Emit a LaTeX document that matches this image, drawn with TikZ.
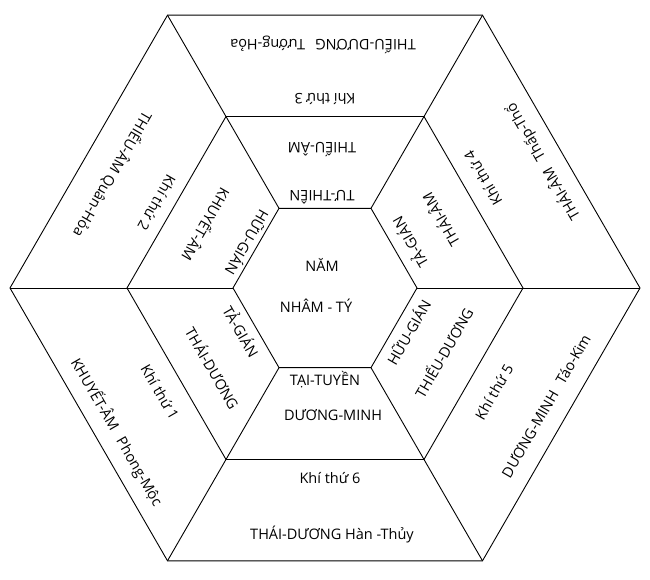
\documentclass[tikz,border=0pt]{standalone}
\usepackage{fontspec}
\setmainfont{Open Sans}
\begin{document}
\begin{tikzpicture}[x=1pt,y=1pt,
  edge/.style={line width=0.9pt,line join=miter},
  lbl/.style={inner sep=0pt,font=\fontsize{14.5}{16}\selectfont}]
\useasboundingbox (-325,-292) rectangle (325,288);
\foreach \k/\a in {0/0,1/60,2/120,3/180,4/240,5/300}{
  \coordinate (o\k) at (\a:315);
  \coordinate (m\k) at (\a:198);
  \coordinate (i\k) at (\a:92);
}
\draw[edge] (o0)--(o1)--(o2)--(o3)--(o4)--(o5)--cycle;
\draw[edge] (m0)--(m1)--(m2)--(m3)--(m4)--(m5)--cycle;
\draw[edge] (i0)--(i1)--(i2)--(i3)--(i4)--(i5)--cycle;
\foreach \k in {0,...,5}{ \draw[edge] (i\k)--(o\k); }
% centre
\node[lbl] (c1) at (-3,23) {NĂM};
\node[lbl] (c2) at (-9,-18) {NHÂM - TÝ};
% top
\node[lbl,rotate=180] (t1) at (-3,91) {TƯ-THIÊN};
\node[lbl,rotate=180] (t2) at (-3,138) {THIẾU-ÂM};
\node[lbl,rotate=180] (t3) at (0,189) {Khí thứ 3};
\node[lbl,rotate=180] (t4) at (-2,243) {THIẾU-DƯƠNG\hspace{0.7em}Tướng-Hỏa};
% bottom
\node[lbl] (b1) at (0,-92) {TẠI-TUYỀN};
\node[lbl] (b2) at (8,-127) {DƯƠNG-MINH};
\node[lbl] (b3) at (5,-190) {Khí thứ 6};
\node[lbl] (b4) at (7,-246) {THÁI-DƯƠNG Hàn -Thủy};
% upper left
\node[lbl,rotate=-120] (ul1) at (-77,45) {HỮU-GIÁN};
\node[lbl,rotate=-120] (ul2) at (-118,63) {KHUYẾT-ÂM};
\node[lbl,rotate=-120] (ul3) at (-168,85) {Khí thứ 2};
\node[lbl,rotate=-120] (ul4) at (-212,113) {THIẾU-ÂM Quân-Hỏa};
% upper right
\node[lbl,rotate=120] (ur1) at (84,45) {TẢ-GIÁN};
\node[lbl,rotate=120] (ur2) at (115,68) {THÁI-ÂM};
\node[lbl,rotate=120] (ur3) at (158,110) {Khí thứ 4};
\node[lbl,rotate=120] (ur4) at (218,126) {THÁI-ÂM\hspace{0.7em}Thấp-Thổ};
% lower left
\node[lbl,rotate=-60] (ll1) at (-83,-43) {TẢ-GIÁN};
\node[lbl,rotate=-60] (ll2) at (-112,-80) {THÁI-DƯƠNG};
\node[lbl,rotate=-60] (ll3) at (-165,-104) {Khí thứ 1};
\node[lbl,rotate=-60] (ll4) at (-208,-144) {KHUYẾT-ÂM\hspace{0.7em}Phong-Mộc};
% lower right
\node[lbl,rotate=60] (lr1) at (83,-44) {HỮU-GIÁN};
\node[lbl,rotate=60] (lr2) at (118,-64) {THIẾU-DƯƠNG};
\node[lbl,rotate=60] (lr3) at (169,-104) {Khí thứ 5};
\node[lbl,rotate=60] (lr4) at (221,-118) {DƯƠNG-MINH\hspace{0.7em}Táo-Kim};
\end{tikzpicture}
\end{document}
